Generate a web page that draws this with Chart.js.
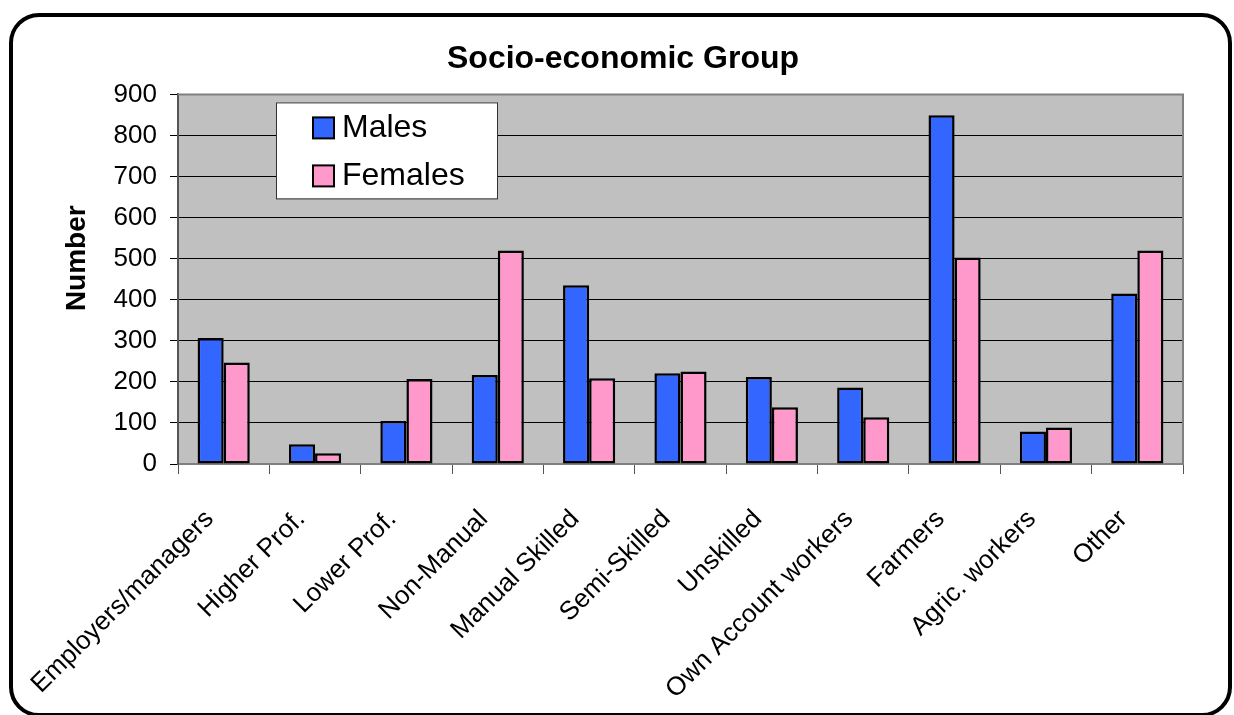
<html>
<head>
  <title>Socio-economic Group</title>
  <style>
    body { margin: 0; background: #fff; }
    #wrap { width: 1234px; height: 715px; position: relative; }
  </style>
</head>
<body>
  <div id="wrap"><canvas id="chart"></canvas></div>

  <script src="https://cdn.jsdelivr.net/npm/chart.js"></script>
  <script>
    // data
    const categories = ['Employers/managers', 'Higher Prof.', 'Lower Prof.', 'Non-Manual', 'Manual Skilled',
      'Semi-Skilled', 'Unskilled', 'Own Account workers', 'Farmers', 'Agric. workers', 'Other'];
    const males = [307, 48, 105, 217, 435, 221, 212, 186, 849, 79, 415];
    const females = [247, 26, 207, 520, 209, 225, 138, 114, 503, 89, 520];
    const yTicks = [0, 100, 200, 300, 400, 500, 600, 700, 800, 900];
    const yTitle = 'Number';

    Chart.defaults.font.family = 'Arial, "Liberation Sans", sans-serif';
    Chart.defaults.color = '#000';

    // grey plot area, its border, the y title and the rounded outer frame
    const frame = {
      id: 'frame',
      beforeDraw(chart) {
        const { ctx, chartArea: a } = chart;
        ctx.save();
        ctx.fillStyle = '#c0c0c0';
        ctx.fillRect(a.left, a.top, a.right - a.left, a.bottom - a.top);
        ctx.restore();
      },
      afterDraw(chart) {
        const { ctx, chartArea: a } = chart;
        ctx.save();
        ctx.strokeStyle = '#808080';
        ctx.lineWidth = 2;
        ctx.beginPath();
        ctx.moveTo(a.left, a.top);
        ctx.lineTo(a.right, a.top);
        ctx.lineTo(a.right, a.bottom);
        ctx.stroke();

        // axis title, sits a bit above the middle like in Excel
        ctx.translate(77, a.top + (a.bottom - a.top) / 2 - 21);
        ctx.rotate(-Math.PI / 2);
        ctx.font = 'bold 28px Arial, "Liberation Sans", sans-serif';
        ctx.fillStyle = '#000';
        ctx.textAlign = 'center';
        ctx.textBaseline = 'middle';
        ctx.fillText(yTitle, 0, 0);
        ctx.setTransform(1, 0, 0, 1, 0, 0);

        ctx.strokeStyle = '#000';
        ctx.lineWidth = 4;
        ctx.beginPath();
        ctx.roundRect(11, 15, 1219, 700, 28);
        ctx.stroke();
        ctx.restore();
      }
    };

    // legend box sitting inside the plot area
    const boxLegend = {
      id: 'boxLegend',
      afterDraw(chart) {
        const { ctx, chartArea: a } = chart;
        const x = a.left + 98, y = a.top + 8;
        ctx.save();
        ctx.fillStyle = '#fff';
        ctx.fillRect(x, y, 221, 96);
        ctx.strokeStyle = '#333';
        ctx.lineWidth = 1;
        ctx.strokeRect(x + 0.5, y + 0.5, 221, 96);
        ctx.font = '32px Arial, "Liberation Sans", sans-serif';
        ctx.textBaseline = 'middle';
        chart.data.datasets.forEach((ds, i) => {
          const cy = y + 25 + i * 48;
          ctx.fillStyle = ds.backgroundColor;
          ctx.fillRect(x + 37, cy - 10, 21, 21);
          ctx.strokeStyle = '#000';
          ctx.lineWidth = 2;
          ctx.strokeRect(x + 37, cy - 10, 21, 21);
          ctx.fillStyle = '#000';
          ctx.fillText(ds.label, x + 66, cy + 1);
        });
        ctx.restore();
      }
    };

    new Chart(document.getElementById('chart'), {
      type: 'bar',
      data: {
        labels: categories,
        datasets: [{
          label: 'Males',
          data: males,
          backgroundColor: '#3366ff',
          borderColor: '#000',
          borderWidth: 2.5,
          borderSkipped: false
        }, {
          label: 'Females',
          data: females,
          backgroundColor: '#ff99cc',
          borderColor: '#000',
          borderWidth: 2.5,
          borderSkipped: false
        }]
      },
      options: {
        responsive: true,
        maintainAspectRatio: false,
        animation: false,
        categoryPercentage: 0.571,
        barPercentage: 1,
        layout: { padding: { left: 63, right: 51, top: 0, bottom: 0 } },
        plugins: {
          legend: { display: false },
          tooltip: { enabled: false },
          title: {
            display: true,
            text: 'Socio-economic Group',
            font: { size: 32, weight: 'bold' },
            color: '#000',
            padding: { top: 40, bottom: 16 }
          }
        },
        scales: {
          x: {
            afterFit: s => { s.height = 251; },
            grid: {
              display: true,
              drawOnChartArea: false,
              tickLength: 10,
              color: '#555',
              offset: true
            },
            border: { color: '#808080', width: 2 },
            ticks: {
              autoSkip: false,
              maxRotation: 45,
              minRotation: 45,
              padding: 30,
              labelOffset: -14,
              font: { size: 26 },
              color: '#000'
            }
          },
          y: {
            min: 0,
            max: 900,
            afterFit: s => { s.width = 115; },
            afterBuildTicks: s => { s.ticks = yTicks.map(v => ({ value: v })); },
            grid: { color: '#000', lineWidth: 1, tickLength: 8, tickColor: '#000' },
            border: { color: '#555', width: 2 },
            ticks: { padding: 13, font: { size: 26 }, color: '#000' }
          }
        }
      },
      plugins: [frame, boxLegend]
    });
  </script>
</body>
</html>
